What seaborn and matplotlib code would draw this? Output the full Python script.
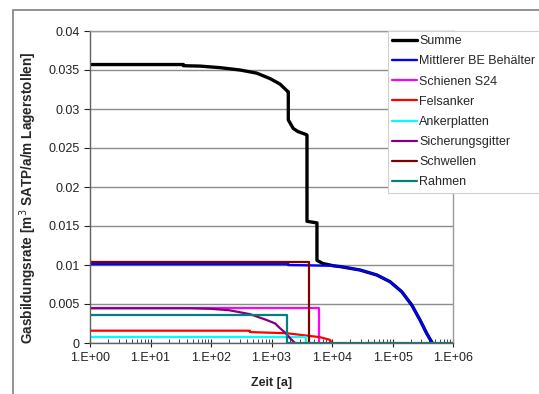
import numpy as np
import pandas as pd
import matplotlib
matplotlib.use("Agg")
import matplotlib.pyplot as plt
from matplotlib.patches import Rectangle
import seaborn as sns

# values (time in years, rate in m3 SATP/a/m)
summe_t = [1, 35, 35, 66, 141, 301, 569, 944, 1380, 1823, 1895, 1895, 2290, 2750, 3810, 3860, 3860,
           5640, 5640, 7000, 10500, 13600, 29000, 55000, 91000, 142000, 208000, 285000,
           367000, 446000, 455000]
summe_v = [0.0357, 0.0357, 0.03555, 0.0355, 0.0353, 0.0350, 0.0346, 0.0339, 0.0332, 0.0323, 0.0322,
           0.0286, 0.0275, 0.0271, 0.0267, 0.0266, 0.0156, 0.0154, 0.0106, 0.0102, 0.0099,
           0.0098, 0.00936, 0.00872, 0.00786, 0.00658, 0.00487, 0.00295, 0.00124, 0.0001, 0.0]

behaelter_t = [1, 1900, 1900, 10500, 13600, 29000, 55000, 91000, 142000, 208000, 285000,
               367000, 446000, 455000]
behaelter_v = [0.0101, 0.0101, 0.0100, 0.0099, 0.0098, 0.00936, 0.00872, 0.00786, 0.00658,
               0.00487, 0.00295, 0.00124, 0.0001, 0.0]

schienen_t = [1, 6150, 6150]
schienen_v = [0.00445, 0.00445, 0.0]

felsanker_t = [1, 440, 440, 1800, 3700, 6300, 9300, 9800]
felsanker_v = [0.00158, 0.00158, 0.00140, 0.00125, 0.00096, 0.00075, 0.0004, 0.0]

ankerplatten_t = [1, 3700, 3700]
ankerplatten_v = [0.0008, 0.0008, 0.0]

gitter_t = [1, 45, 100, 200, 440, 830, 1150, 1380, 1700, 2030, 2450]
gitter_v = [0.00445, 0.00445, 0.00438, 0.0042, 0.0037, 0.00295, 0.0025, 0.0019, 0.0013, 0.0006, 0.0]

schwellen_t = [1, 4170, 4170]
schwellen_v = [0.0104, 0.0104, 0.0]

rahmen_t = [1, 1800, 1800, 1000000]
rahmen_v = [0.0036, 0.0036, 0.0, 0.0]

x_ticks = [1, 10, 100, 1000, 10000, 100000, 1000000]
x_tick_labels = ["1.E+00", "1.E+01", "1.E+02", "1.E+03", "1.E+04", "1.E+05", "1.E+06"]
y_ticks = [0, 0.005, 0.01, 0.015, 0.02, 0.025, 0.03, 0.035, 0.04]
y_tick_labels = ["0", "0.005", "0.01", "0.015", "0.02", "0.025", "0.03", "0.035", "0.04"]

series = [
    ("Summe", summe_t, summe_v, "#000000", 2.4),
    ("Mittlerer BE Behälter", behaelter_t, behaelter_v, "#0000FF", 1.7),
    ("Schienen S24", schienen_t, schienen_v, "#FF00FF", 1.6),
    ("Felsanker", felsanker_t, felsanker_v, "#FF0000", 1.6),
    ("Ankerplatten", ankerplatten_t, ankerplatten_v, "#00FFFF", 1.6),
    ("Sicherungsgitter", gitter_t, gitter_v, "#800080", 1.6),
    ("Schwellen", schwellen_t, schwellen_v, "#800000", 1.6),
    ("Rahmen", rahmen_t, rahmen_v, "#008080", 1.6),
]

sns.set_style("white")
plt.rcParams["font.family"] = ["Liberation Sans", "DejaVu Sans"]

fig = plt.figure(figsize=(5.39, 3.94), dpi=100)
ax = fig.add_axes([90 / 539, 1 - 343 / 394, 363 / 539, 312 / 394])

for name, t, v, col, lw in series:
    df = pd.DataFrame({"Zeit": t, "Rate": v})
    sns.lineplot(data=df, x="Zeit", y="Rate", color=col, lw=lw, label=name,
                 estimator=None, sort=False, ax=ax)

ax.set_xscale("log")
ax.set_xlim(1, 1e6)
ax.set_ylim(0, 0.04)
ax.set_xticks(x_ticks)
ax.set_xticklabels(x_tick_labels)
ax.set_yticks(y_ticks)
ax.set_yticklabels(y_tick_labels)
ax.yaxis.grid(True, color="#8c8c8c", lw=1)
ax.xaxis.grid(False)
ax.set_axisbelow(True)

ax.tick_params(axis="both", labelsize=9, colors="#222222")
ax.tick_params(axis="x", which="major", direction="inout", length=6, width=0.8, bottom=True)
ax.tick_params(axis="x", which="minor", direction="in", length=3, width=0.6, bottom=True)
ax.tick_params(axis="y", which="major", direction="out", length=4, width=0.8, left=True)

for side in ["left", "bottom"]:
    ax.spines[side].set_color("#606060")
    ax.spines[side].set_linewidth(1)
for side in ["top", "right"]:
    ax.spines[side].set_color("#9a9a9a")
    ax.spines[side].set_linewidth(1)

ax.set_xlabel("Zeit [a]", fontsize=9, fontweight="bold", labelpad=9)
ax.set_ylabel("Gasbildungsrate [m$^3$ SATP/a/m Lagerstollen]", fontsize=9.8,
              fontweight="bold")
ax.yaxis.set_label_coords(-0.14, 0.465)

leg = ax.legend(loc="upper left", bbox_to_anchor=(388 / 539, 1 - 31 / 394),
                bbox_transform=fig.transFigure, fontsize=9, frameon=True,
                fancybox=False, borderaxespad=0, borderpad=0.35,
                handlelength=2.0, handletextpad=0.15, labelspacing=0.65)
leg.get_frame().set_edgecolor("#d0d0d0")
leg.get_frame().set_linewidth(0.8)
leg.get_frame().set_facecolor("white")
leg.get_frame().set_alpha(1)

fig.patches.append(Rectangle((13 / 539, -0.1), 1.2, 0.1 + 1 - 10 / 394,
                             transform=fig.transFigure, fill=False,
                             ec="#808080", lw=1.2))

fig.savefig("out.png", dpi=100)
